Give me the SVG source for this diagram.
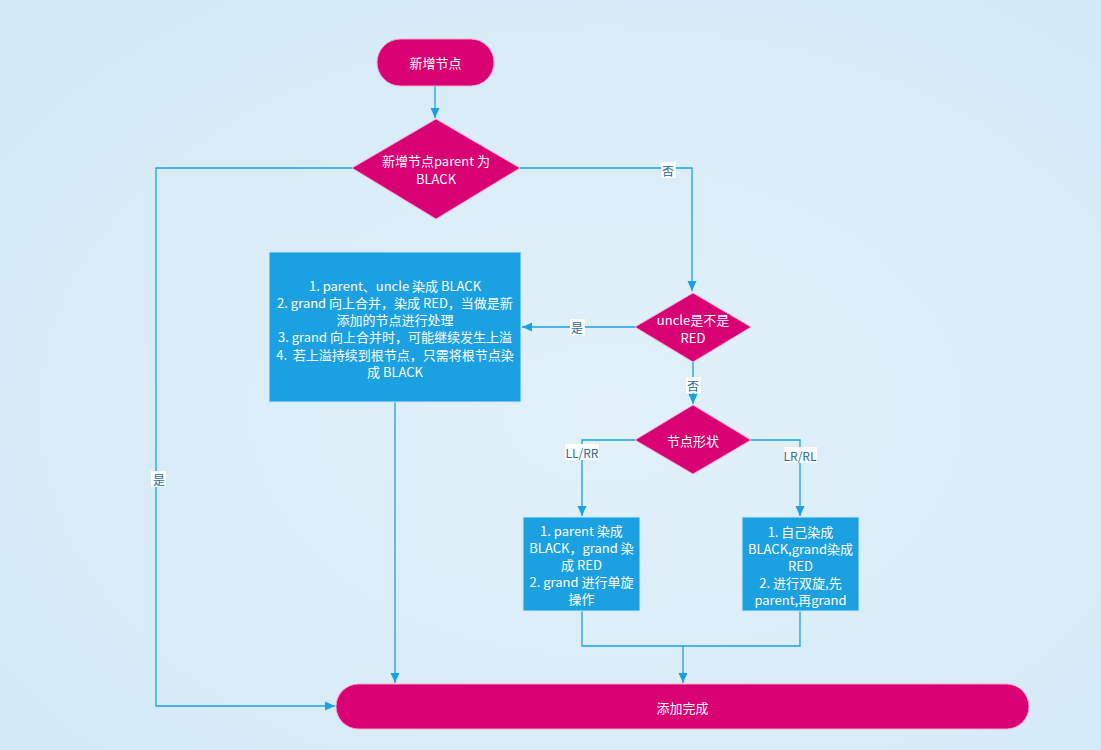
<svg xmlns="http://www.w3.org/2000/svg" width="1101" height="750" viewBox="0 0 1101 750">
<defs>
<radialGradient id="bg" cx="55%" cy="55%" r="75%">
<stop offset="0" stop-color="#e2f1fa"/>
<stop offset="1" stop-color="#d2e9f6"/>
</radialGradient>
<marker id="arr" viewBox="0 0 10 10" refX="10" refY="5" markerWidth="10" markerHeight="10" markerUnits="userSpaceOnUse" orient="auto">
<path d="M0,0.5 L10,5 L0,9.5 z" fill="#1ba1e2"/>
</marker>
<style>
.term{fill:#d80073;stroke:#f2a6cc;stroke-width:1}
.dia{fill:#d80073;stroke:#f2a6cc;stroke-width:1}
.box{fill:#1ba1e2;stroke:#cde9f8;stroke-width:1}
.t{font-family:"Noto Sans CJK SC","Noto Sans",sans-serif;font-size:13px;fill:#ffffff;text-anchor:middle;dominant-baseline:central}
.conn path{fill:none;stroke:#1ba1e2;stroke-width:1.3}
.lblbg{fill:#ffffff}
.lbl{font-family:"Noto Sans CJK SC","Noto Sans",sans-serif;font-size:12px;fill:#2b6a95;text-anchor:middle;dominant-baseline:central}
</style>
</defs>
<rect width="1101" height="750" fill="url(#bg)"/>

<g id="connectors" class="conn">
<path d="M435,86 V118" marker-end="url(#arr)"/>
<path d="M352,168 H156 V706 H335" marker-end="url(#arr)"/>
<path d="M520,168 H692 V291" marker-end="url(#arr)"/>
<path d="M635,327 H522" marker-end="url(#arr)"/>
<path d="M693,362 V404" marker-end="url(#arr)"/>
<path d="M635,440 H582 V516" marker-end="url(#arr)"/>
<path d="M751,440 H800 V516" marker-end="url(#arr)"/>
<path d="M395,402 V683" marker-end="url(#arr)"/>
<path d="M582,611 V646 H800 V611"/>
<path d="M683,646 V683" marker-end="url(#arr)"/>
<rect class="lblbg" x="151" y="471" width="15" height="16"/>
<text class="lbl" x="159" y="479">是</text>
<rect class="lblbg" x="661" y="162" width="15" height="16"/>
<text class="lbl" x="668" y="170">否</text>
<rect class="lblbg" x="570" y="319" width="15" height="16"/>
<text class="lbl" x="577" y="327">是</text>
<rect class="lblbg" x="686" y="377" width="15" height="16"/>
<text class="lbl" x="693" y="385">否</text>
<rect class="lblbg" x="565" y="444" width="34" height="16"/>
<text class="lbl" x="582" y="452">LL/RR</text>
<rect class="lblbg" x="784" y="447" width="33" height="16"/>
<text class="lbl" x="800" y="455">LR/RL</text>
</g>

<g id="start">
<rect class="term" x="377" y="39" width="117" height="47" rx="23.5"/>
<text class="t" x="435.5" y="62">新增节点</text>
</g>

<g id="parentBlack">
<polygon class="dia" points="436,119 520,168 436,219 352,168"/>
<text class="t" x="436" y="160.5">新增节点parent 为</text>
<text class="t" x="436" y="178">BLACK</text>
</g>

<g id="uncleRedCase">
<rect class="box" x="269" y="252" width="252" height="150"/>
<text class="t" x="395" y="285">1. parent、uncle 染成 BLACK</text>
<text class="t" x="395" y="302">2. grand 向上合并，染成 RED，当做是新</text>
<text class="t" x="395" y="319">添加的节点进行处理</text>
<text class="t" x="395" y="336.5">3. grand 向上合并时，可能继续发生上溢</text>
<text class="t" x="395" y="354" xml:space="preserve">4.  若上溢持续到根节点，只需将根节点染</text>
<text class="t" x="395" y="371">成 BLACK</text>
</g>

<g id="uncleRed">
<polygon class="dia" points="693,293 751,327 693,362 635,327"/>
<text class="t" x="693" y="319.5">uncle是不是</text>
<text class="t" x="693" y="337">RED</text>
</g>

<g id="shape">
<polygon class="dia" points="693,405 751,440 693,474 635,440"/>
<text class="t" x="693" y="440">节点形状</text>
</g>

<g id="llrr">
<rect class="box" x="523" y="517" width="117" height="94"/>
<text class="t" x="581.5" y="530">1. parent 染成</text>
<text class="t" x="581.5" y="547">BLACK，grand 染</text>
<text class="t" x="581.5" y="564">成 RED</text>
<text class="t" x="581.5" y="581">2. grand 进行单旋</text>
<text class="t" x="581.5" y="598">操作</text>
</g>

<g id="lrrl">
<rect class="box" x="742" y="517" width="117" height="94"/>
<text class="t" x="800.5" y="531">1. 自己染成</text>
<text class="t" x="800.5" y="548">BLACK,grand染成</text>
<text class="t" x="800.5" y="565">RED</text>
<text class="t" x="800.5" y="582">2. 进行双旋,先</text>
<text class="t" x="800.5" y="599">parent,再grand</text>
</g>

<g id="end">
<rect class="term" x="336" y="684" width="693" height="45" rx="22.5"/>
<text class="t" x="682.5" y="707">添加完成</text>
</g>
</svg>
